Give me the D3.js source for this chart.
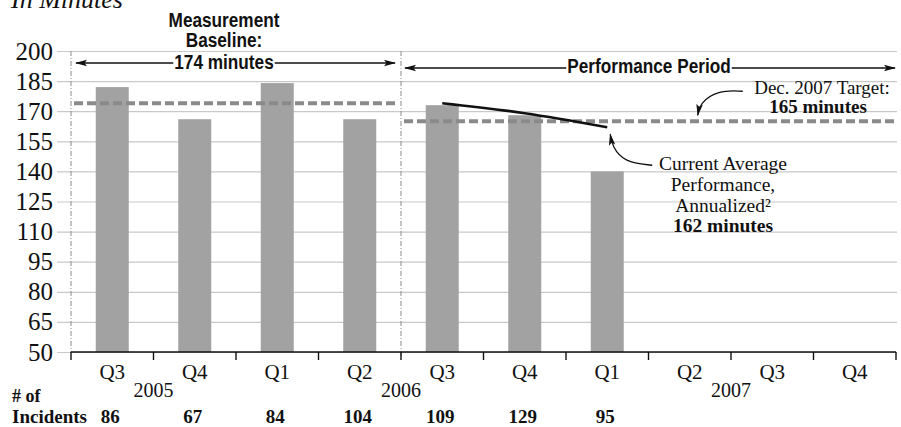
<!DOCTYPE html>
<html>
<head>
<meta charset="utf-8">
<script src="https://cdn.jsdelivr.net/npm/d3@7"></script>
<style>
  body { margin: 0; background: #fff; }
  .serif { font-family: "Liberation Serif", "Times New Roman", serif; }
  .narrow { font-family: "Liberation Sans", Arial, sans-serif; font-weight: bold; }
</style>
</head>
<body>
<script>
// chart values
var categories = ["2005 Q3", "2005 Q4", "2006 Q1", "2006 Q2", "2006 Q3",
                  "2006 Q4", "2007 Q1", "2007 Q2", "2007 Q3", "2007 Q4"];
var quarterLabels = ["Q3", "Q4", "Q1", "Q2", "Q3", "Q4", "Q1", "Q2", "Q3", "Q4"];
var minutes = [182, 166, 184, 166, 173, 168, 140, null, null, null];
var incidents = [86, 67, 84, 104, 109, 129, 95, null, null, null];
var yearLabels = [
  {year: "2005", after: "2005 Q3"},
  {year: "2006", after: "2006 Q2"},
  {year: "2007", after: "2007 Q2"}
];
var yTicks = [50, 65, 80, 95, 110, 125, 140, 155, 170, 185, 200];
var baselineMinutes = 174;
var targetMinutes = 165;
var trendCats = ["2006 Q3", "2006 Q4", "2007 Q1"];
var trendValues = [174, 169, 162];
var firstPerformanceCat = "2006 Q3";

var width = 901, height = 427;

var svg = d3.select("body").append("svg")
    .attr("width", width)
    .attr("height", height);

// arrow head marker
var defs = svg.append("defs");
defs.append("marker")
    .attr("id", "head")
    .attr("viewBox", "0 0 12 8")
    .attr("refX", 11).attr("refY", 4)
    .attr("markerWidth", 12).attr("markerHeight", 8)
    .attr("markerUnits", "userSpaceOnUse")
    .attr("orient", "auto-start-reverse")
    .append("path")
    .attr("d", "M0,0.8 L12,4 L0,7.2 L2.5,4 Z")
    .attr("fill", "#111");

var x = d3.scaleBand()
    .domain(categories)
    .range([71, 896])
    .paddingInner(0.6)
    .paddingOuter(0.3);

var y = d3.scaleLinear()
    .domain([50, 200])
    .range([352, 51]);

var half = (x.step() - x.bandwidth()) / 2;
function left(c) { return x(c) - half; }
function mid(c) { return x(c) + x.bandwidth() / 2; }
var xEnd = x.range()[1];
var divider = left(firstPerformanceCat);

// grid lines and y labels
var gridLeft = 57, gridRight = 897;
var yAxis = svg.append("g")
    .attr("transform", "translate(" + gridLeft + ",0)")
    .call(d3.axisLeft(y).tickValues(yTicks).tickSize(-(gridRight - gridLeft)).tickPadding(4));
yAxis.select(".domain").remove();
yAxis.selectAll("line").attr("stroke", "#c9c9c9").attr("stroke-width", 1.2);
yAxis.selectAll("text")
    .attr("class", "serif")
    .attr("font-size", 25)
    .attr("fill", "#111");

// vertical dash-dot lines
[x.range()[0], divider].forEach(function(d) {
  svg.append("line")
      .attr("x1", d).attr("x2", d)
      .attr("y1", y(200)).attr("y2", y(50) + (d === divider ? 6 : 0))
      .attr("stroke", "#8a8a8a")
      .attr("stroke-width", 1)
      .attr("stroke-dasharray", "5,2,1,2");
});

// bars
svg.selectAll("rect.bar")
    .data(categories.filter(function(c, i) { return minutes[i] != null; }))
    .enter().append("rect")
    .attr("class", "bar")
    .attr("x", function(c) { return x(c); })
    .attr("y", function(c) { return y(minutes[categories.indexOf(c)]); })
    .attr("width", x.bandwidth())
    .attr("height", function(c) { return y(50) - y(minutes[categories.indexOf(c)]); })
    .attr("fill", "#a2a2a2");

// baseline and target dashed lines
svg.append("line")
    .attr("x1", x.range()[0] + 3).attr("x2", divider - 4)
    .attr("y1", y(baselineMinutes)).attr("y2", y(baselineMinutes))
    .attr("stroke", "#8a8a8a").attr("stroke-width", 4)
    .attr("stroke-dasharray", "9,4");
svg.append("line")
    .attr("x1", divider + 3).attr("x2", gridRight)
    .attr("y1", y(targetMinutes)).attr("y2", y(targetMinutes))
    .attr("stroke", "#8a8a8a").attr("stroke-width", 4)
    .attr("stroke-dasharray", "9,4");

// trend line
var trend = d3.line()
    .x(function(d, i) { return mid(trendCats[i]); })
    .y(function(d) { return y(d); })
    .curve(d3.curveMonotoneX);
svg.append("path")
    .attr("d", trend(trendValues))
    .attr("fill", "none")
    .attr("stroke", "#111")
    .attr("stroke-width", 2.6);

// x axis line and boundary ticks
svg.append("line")
    .attr("x1", x.range()[0]).attr("x2", xEnd)
    .attr("y1", y(50)).attr("y2", y(50))
    .attr("stroke", "#111").attr("stroke-width", 1.6);
var bounds = categories.map(left).concat([xEnd]);
svg.selectAll("line.xtick")
    .data(bounds)
    .enter().append("line")
    .attr("class", "xtick")
    .attr("x1", function(d) { return d; }).attr("x2", function(d) { return d; })
    .attr("y1", y(50)).attr("y2", y(50) + 8)
    .attr("stroke", "#111").attr("stroke-width", 1.4);

// quarter labels
svg.selectAll("text.q")
    .data(categories)
    .enter().append("text")
    .attr("class", "serif")
    .attr("x", mid)
    .attr("y", 379)
    .attr("text-anchor", "middle")
    .attr("font-size", 21)
    .attr("fill", "#111")
    .text(function(c, i) { return quarterLabels[i]; });

// year labels sit on the boundary after a category
svg.selectAll("text.yr")
    .data(yearLabels)
    .enter().append("text")
    .attr("class", "serif")
    .attr("x", function(d) { return left(d.after) + x.step(); })
    .attr("y", 397)
    .attr("text-anchor", "middle")
    .attr("font-size", 20)
    .attr("fill", "#111")
    .text(function(d) { return d.year; });

// incidents row
svg.append("text").attr("class", "serif")
    .attr("x", 12).attr("y", 402)
    .attr("font-size", 18).attr("font-weight", "bold").attr("fill", "#111")
    .text("# of");
svg.append("text").attr("class", "serif")
    .attr("x", 12).attr("y", 423)
    .attr("font-size", 19).attr("font-weight", "bold").attr("fill", "#111")
    .text("Incidents");
svg.selectAll("text.inc")
    .data(categories.filter(function(c, i) { return incidents[i] != null; }))
    .enter().append("text")
    .attr("class", "serif")
    .attr("x", function(c) { return mid(c) - 2; })
    .attr("y", 423)
    .attr("text-anchor", "middle")
    .attr("font-size", 19)
    .attr("font-weight", "bold")
    .attr("fill", "#111")
    .text(function(c) { return incidents[categories.indexOf(c)]; });

// "In Minutes" title, cut at the top as in the source
svg.append("text").attr("class", "serif")
    .attr("x", 11).attr("y", 8)
    .attr("font-size", 26).attr("font-style", "italic").attr("fill", "#111")
    .text("In Minutes");

// condensed bold label: squeeze a regular bold face horizontally
function narrowText(label, tx, ty) {
  var t = svg.append("text").attr("class", "narrow")
      .attr("x", tx).attr("y", ty)
      .attr("text-anchor", "middle")
      .attr("font-size", 20)
      .attr("fill", "#111")
      .text(label);
  var w = t.node().getComputedTextLength();
  t.attr("textLength", w * 0.86).attr("lengthAdjust", "spacingAndGlyphs");
  return t;
}

// double arrows with label in the middle
function spanArrow(x1, x2, yLine, label, labelX, labelY) {
  svg.append("line")
      .attr("x1", x1).attr("x2", x2)
      .attr("y1", yLine).attr("y2", yLine)
      .attr("stroke", "#111").attr("stroke-width", 1.3)
      .attr("marker-start", "url(#head)")
      .attr("marker-end", "url(#head)");
  var t = narrowText(label, labelX, labelY);
  var b = t.node().getBBox();
  svg.insert("rect", function() { return t.node(); })
      .attr("x", b.x - 1).attr("y", yLine - 3)
      .attr("width", b.width + 2).attr("height", 6)
      .attr("fill", "#fff");
}

var baseMid = (x.range()[0] + divider) / 2 - 12;
narrowText("Measurement", baseMid, 27);
narrowText("Baseline:", baseMid, 47);
spanArrow(x.range()[0] + 5, divider - 6, 63, "174 minutes", baseMid, 69);
spanArrow(divider + 4, gridRight - 2, 68, "Performance Period", (divider + gridRight) / 2, 73);

// target annotation
var tgtX = mid("2007 Q2") + 8, tgtY = y(targetMinutes) - 6;
svg.append("path")
    .attr("d", d3.line().curve(d3.curveBasis)([
      [tgtX + 45, tgtY - 24], [tgtX + 20, tgtY - 25], [tgtX + 2, tgtY - 12], [tgtX, tgtY]
    ]))
    .attr("fill", "none").attr("stroke", "#111").attr("stroke-width", 1.3)
    .attr("marker-end", "url(#head)");
svg.append("text").attr("class", "serif")
    .attr("x", 822).attr("y", 94)
    .attr("text-anchor", "middle").attr("font-size", 19).attr("fill", "#111")
    .text("Dec. 2007 Target:");
svg.append("text").attr("class", "serif")
    .attr("x", 818).attr("y", 113)
    .attr("text-anchor", "middle").attr("font-size", 19).attr("font-weight", "bold").attr("fill", "#111")
    .text("165 minutes");

// current average annotation
var curX = mid("2007 Q1") + 3, curY = y(trendValues[2]) + 7;
svg.append("path")
    .attr("d", d3.line().curve(d3.curveBasis)([
      [curX + 42, curY + 31], [curX + 14, curY + 28], [curX + 2, curY + 12], [curX, curY]
    ]))
    .attr("fill", "none").attr("stroke", "#111").attr("stroke-width", 1.3)
    .attr("marker-end", "url(#head)");
var noteX = 723;
[["Current Average", 170, "normal"], ["Performance,", 191, "normal"],
 ["Annualized\u00B2", 212, "normal"], ["162 minutes", 232, "bold"]].forEach(function(d) {
  svg.append("text").attr("class", "serif")
      .attr("x", noteX).attr("y", d[1])
      .attr("text-anchor", "middle").attr("font-size", 19.5)
      .attr("font-weight", d[2]).attr("fill", "#111")
      .text(d[0]);
});
</script>
</body>
</html>
